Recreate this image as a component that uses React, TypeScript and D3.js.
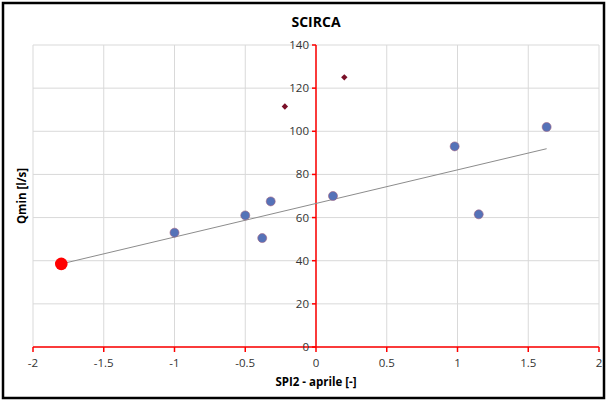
import React from "react";
import * as d3 from "d3";

// SPI2 (April) vs minimum discharge, Scirca spring
const spiValues = [-1.0, -0.5, -0.38, -0.32, 0.12, 0.98, 1.15, 1.63];
const qminValues = [53, 61, 50.5, 67.5, 70, 93, 61.5, 102];

// years excluded from the regression
const outlierSpi = [-0.22, 0.2];
const outlierQmin = [111.5, 125];

// forecast point on the regression line
const forecastSpi = -1.8;

const xTicks = [-2, -1.5, -1, -0.5, 0, 0.5, 1, 1.5, 2];
const yTicks = [0, 20, 40, 60, 80, 100, 120, 140];

const W = 607;
const H = 401;

export default function App() {
  const x = d3.scaleLinear().domain([-2, 2]).range([33, 599]);
  const y = d3.scaleLinear().domain([0, 140]).range([347, 45]);

  // least-squares fit of the regular years
  const mx = d3.mean(spiValues)!;
  const my = d3.mean(qminValues)!;
  const sxy = d3.sum(spiValues.map((v, i) => (v - mx) * (qminValues[i] - my)));
  const sxx = d3.sum(spiValues.map((v) => (v - mx) * (v - mx)));
  const slope = sxy / sxx;
  const intercept = my - slope * mx;
  const fit = (v: number) => intercept + slope * v;

  const trendX = [forecastSpi, d3.max(spiValues)!];
  const line = d3
    .line<number>()
    .x((v) => x(v))
    .y((v) => y(fit(v)));

  const font = "'Open Sans', 'Liberation Sans', sans-serif";
  const grid = "#d9d9d9";
  const red = "#ff0000";

  return (
    <svg
      width={W}
      height={H}
      style={{ position: "absolute", left: 0, top: 0, background: "#fff" }}
      fontFamily={font}
    >
      <rect x={3} y={3} width={W - 6} height={H - 6} fill="#fff" stroke="#000" strokeWidth={2.5} />

      {/* gridlines */}
      {xTicks.map((t) => (
        <line key={"gx" + t} x1={x(t)} x2={x(t)} y1={y(140)} y2={y(0)} stroke={grid} strokeWidth={1} />
      ))}
      {yTicks.map((t) => (
        <line key={"gy" + t} x1={x(-2)} x2={x(2)} y1={y(t)} y2={y(t)} stroke={grid} strokeWidth={1} />
      ))}

      {/* axes through the origin */}
      <line x1={x(-2)} x2={x(2)} y1={y(0)} y2={y(0)} stroke={red} strokeWidth={1.5} />
      <line x1={x(0)} x2={x(0)} y1={y(0)} y2={y(140)} stroke={red} strokeWidth={1.5} />
      {xTicks.map((t) => (
        <line key={"tx" + t} x1={x(t)} x2={x(t)} y1={y(0)} y2={y(0) + 5} stroke={red} strokeWidth={1.5} />
      ))}
      {yTicks.map((t) => (
        <line key={"ty" + t} x1={x(0) - 4} x2={x(0)} y1={y(t)} y2={y(t)} stroke={red} strokeWidth={1.5} />
      ))}

      {/* tick labels */}
      {xTicks.map((t) => (
        <text key={"lx" + t} x={x(t)} y={y(0) + 20} textAnchor="middle" fontSize={11.5} fill="#333">
          {t}
        </text>
      ))}
      {yTicks.map((t) => (
        <text key={"ly" + t} x={x(0) - 7} y={y(t) + 4} textAnchor="end" fontSize={11.5} fill="#333">
          {t}
        </text>
      ))}

      {/* trend line */}
      <path d={line(trendX) ?? ""} fill="none" stroke="#8c8c8c" strokeWidth={1} />

      {/* observations */}
      {spiValues.map((v, i) => (
        <circle key={"p" + i} cx={x(v)} cy={y(qminValues[i])} r={4.5} fill="#5572b8" stroke="#a06080" strokeWidth={0.6} />
      ))}
      {outlierSpi.map((v, i) => {
        const cx = x(v);
        const cy = y(outlierQmin[i]);
        const s = 3.2;
        return (
          <path
            key={"o" + i}
            d={`M${cx},${cy - s}L${cx + s},${cy}L${cx},${cy + s}L${cx - s},${cy}Z`}
            fill="#7a1028"
          />
        );
      })}
      <circle cx={x(forecastSpi)} cy={y(fit(forecastSpi))} r={6.3} fill={red} />

      {/* titles */}
      <text x={x(0)} y={27} textAnchor="middle" fontSize={14} fontWeight="bold" fill="#000">
        SCIRCA
      </text>
      <text x={x(0)} y={386} textAnchor="middle" fontSize={11.5} fontWeight="bold" fill="#000">
        SPI2 - aprile [-]
      </text>
      <text
        transform={`translate(26, ${y(70)}) rotate(-90)`}
        textAnchor="middle"
        fontSize={11.5}
        fontWeight="bold"
        fill="#000"
      >
        Qmin [l/s]
      </text>
    </svg>
  );
}
